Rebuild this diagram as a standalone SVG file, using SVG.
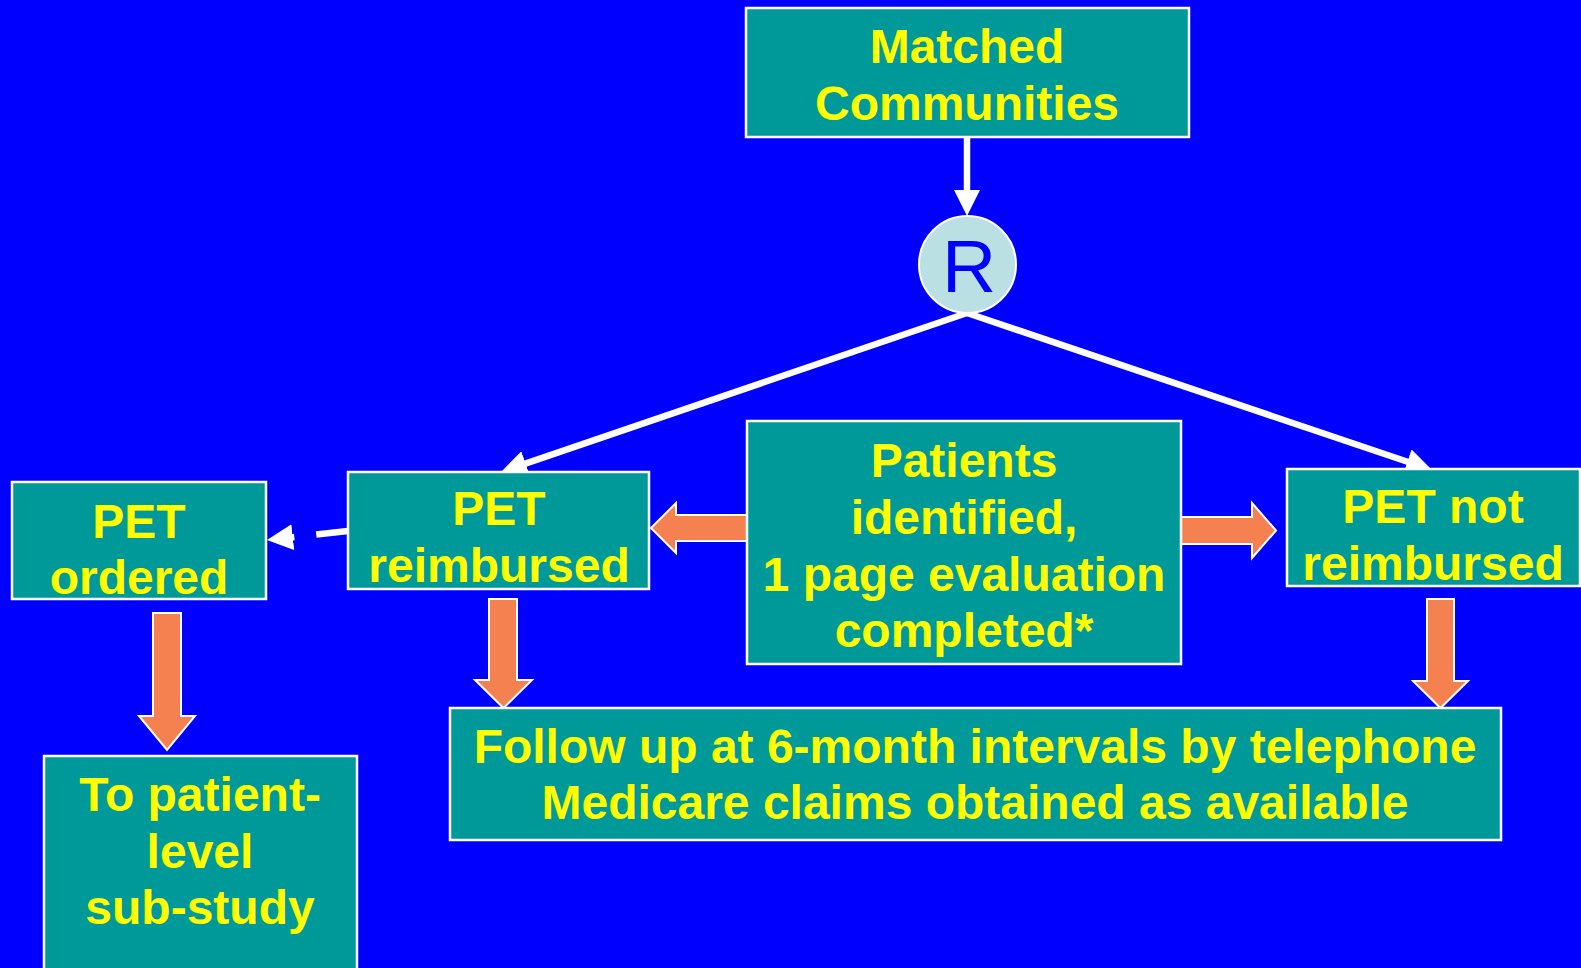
<svg xmlns="http://www.w3.org/2000/svg" width="1581" height="968" viewBox="0 0 1581 968">
<defs>
<style>
.box{fill:#009999;stroke:#FFFFFF;stroke-width:2.5}
.lbl{font-family:"Liberation Sans",Arial,sans-serif;font-weight:bold;font-size:48px;fill:#FFFF00;text-anchor:middle}
.wl{stroke:#FFFFFF;stroke-width:6.5;fill:none}
.blk{fill:#F58050;stroke:#FFFFFF;stroke-width:2}
</style>
<marker id="ah" markerUnits="userSpaceOnUse" markerWidth="26" markerHeight="26" refX="15" refY="13" orient="auto" viewBox="0 0 26 26">
<path d="M0,0 L26,13 L0,26 z" fill="#FFFFFF"/>
</marker>
</defs>
<rect x="0" y="0" width="1581" height="968" fill="#0000FF"/>
<g id="connectors">
<line class="wl" x1="967" y1="137" x2="967" y2="205" marker-end="url(#ah)"/>
<line class="wl" x1="967" y1="313" x2="511.4" y2="468.4" marker-end="url(#ah)"/>
<line class="wl" x1="967" y1="313" x2="1421.6" y2="466.5" marker-end="url(#ah)"/>
<line class="wl" x1="348" y1="531" x2="277.9" y2="538.8" stroke-width="7" stroke-dasharray="32 22" marker-end="url(#ah)"/>
<polygon class="blk" points="651,528 676,503 676,515 748,515 748,541 676,541 676,553"/>
<polygon class="blk" points="1181,517 1252,517 1252,503 1276,530.5 1252,558 1252,544 1181,544"/>
<polygon class="blk" points="489,599 517,599 517,680 532,680 503.5,708 475,680 489,680"/>
<polygon class="blk" points="1427,599 1454,599 1454,681 1468,681 1440.5,708 1413,681 1427,681"/>
<polygon class="blk" points="153,613 181,613 181,716 195,716 167,750 139,716 153,716"/>
</g>
<g id="matched">
<rect class="box" x="746" y="8" width="443" height="129"/>
<text class="lbl" x="967" y="63">Matched</text>
<text class="lbl" x="967" y="120">Communities</text>
</g>
<g id="randomize">
<circle cx="967.5" cy="264.5" r="48.5" fill="#BBE0E3" stroke="#FFFFFF" stroke-width="2"/>
<text x="969" y="292" font-family="'Liberation Sans',Arial,sans-serif" font-size="75" fill="#0000FF" text-anchor="middle">R</text>
</g>
<g id="pet-ordered">
<rect class="box" x="12" y="482" width="254" height="117"/>
<text class="lbl" x="139" y="538">PET</text>
<text class="lbl" x="139" y="594">ordered</text>
</g>
<g id="pet-reimbursed">
<rect class="box" x="348" y="472" width="301" height="117"/>
<text class="lbl" x="499" y="525">PET</text>
<text class="lbl" x="499" y="582">reimbursed</text>
</g>
<g id="patients">
<rect class="box" x="747" y="421" width="434" height="243"/>
<text class="lbl" x="964" y="477">Patients</text>
<text class="lbl" x="964" y="534">identified,</text>
<text class="lbl" x="964" y="591">1 page evaluation</text>
<text class="lbl" x="964" y="647">completed*</text>
</g>
<g id="pet-not-reimbursed">
<rect class="box" x="1287" y="469" width="293" height="117"/>
<text class="lbl" x="1433" y="523">PET not</text>
<text class="lbl" x="1433" y="580">reimbursed</text>
</g>
<g id="follow-up">
<rect class="box" x="450" y="708" width="1051" height="132"/>
<text class="lbl" x="975" y="763">Follow up at 6-month intervals by telephone</text>
<text class="lbl" x="975" y="819">Medicare claims obtained as available</text>
</g>
<g id="sub-study">
<rect class="box" x="44" y="756" width="313" height="240"/>
<text class="lbl" x="200" y="811">To patient-</text>
<text class="lbl" x="200" y="868">level</text>
<text class="lbl" x="200" y="924">sub-study</text>
</g>
</svg>
